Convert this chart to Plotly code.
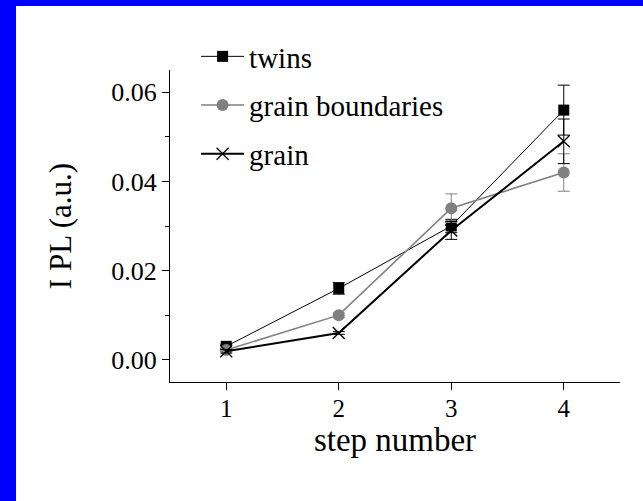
import plotly.graph_objects as go

# Measured PL intensity per processing step
steps = [1, 2, 3, 4]

twins = [0.003, 0.016, 0.030, 0.056]
twins_err = [0.0005, 0.0013, 0.0015, 0.0056]

grain_boundaries = [0.0022, 0.010, 0.034, 0.042]
grain_boundaries_err = [0.0004, 0.0005, 0.0032, 0.0042]

grain = [0.0019, 0.006, 0.029, 0.049]
grain_err = [0.0004, 0.0003, 0.0020, 0.0050]

x_ticks = [1, 2, 3, 4]
y_ticks = [0.00, 0.02, 0.04, 0.06]
y_tick_text = ["0.00", "0.02", "0.04", "0.06"]

FONT = "Liberation Serif"
GRAY = "#808080"

W, H = 643, 501
ML, MR, MT, MB = 170, 23, 70, 119

fig = go.Figure()

fig.add_trace(go.Scatter(
    x=steps, y=twins, name="twins", legendgroup="a",
    mode="lines+markers",
    line=dict(color="black", width=1),
    marker=dict(symbol="square", size=11, color="black"),
    error_y=dict(type="data", array=twins_err, color="black", thickness=1, width=6),
))
fig.add_trace(go.Scatter(
    x=steps, y=grain_boundaries, name="grain boundaries", legendgroup="b",
    mode="lines+markers",
    line=dict(color=GRAY, width=1.6),
    marker=dict(symbol="circle", size=12, color=GRAY),
    error_y=dict(type="data", array=grain_boundaries_err, color=GRAY, thickness=1, width=6),
))
fig.add_trace(go.Scatter(
    x=steps, y=grain, name="grain", legendgroup="c",
    mode="lines+markers",
    line=dict(color="black", width=2),
    marker=dict(symbol="x-thin-open", size=12, color="black",
                line=dict(color="black", width=1.3)),
    error_y=dict(type="data", array=grain_err, color="black", thickness=1, width=6),
))

# blue frame strips along the left and top edges of the page
pw = W - ML - MR
ph = H - MT - MB
def px_x(p):
    return (p - ML) / pw
def px_y(p):
    return (H - MB - p) / ph

fig.add_shape(type="rect", xref="paper", yref="paper",
              x0=px_x(0), x1=px_x(16), y0=px_y(H), y1=px_y(0),
              fillcolor="#0000ff", line=dict(width=0), layer="below")
fig.add_shape(type="rect", xref="paper", yref="paper",
              x0=px_x(0), x1=px_x(W), y0=px_y(6), y1=px_y(0),
              fillcolor="#0000ff", line=dict(width=0), layer="below")

fig.update_layout(
    width=W, height=H,
    margin=dict(l=ML, r=MR, t=MT, b=MB, pad=0),
    paper_bgcolor="white", plot_bgcolor="white",
    font=dict(family=FONT, color="black", size=26),
    showlegend=True,
    legend=dict(
        x=0.058, y=1.125, xanchor="left", yanchor="top",
        bgcolor="rgba(0,0,0,0)", borderwidth=0,
        font=dict(family=FONT, size=29, color="black"),
        tracegroupgap=8, itemwidth=43,
    ),
    xaxis=dict(
        range=[0.5, 4.5], tickvals=x_ticks, ticktext=[str(v) for v in x_ticks],
        showgrid=False, zeroline=False,
        showline=True, linecolor="black", linewidth=1.3,
        ticks="outside", ticklen=7, tickwidth=1.3, tickcolor="black",
        ticklabelstandoff=-3,
        tickfont=dict(family=FONT, size=25),
        title=dict(text="step number", font=dict(family=FONT, size=33), standoff=5),
    ),
    yaxis=dict(
        range=[-0.005, 0.065], tickvals=y_ticks, ticktext=y_tick_text,
        showgrid=False, zeroline=False,
        showline=True, linecolor="black", linewidth=1.3,
        ticks="outside", ticklen=7, tickwidth=1.3, tickcolor="black",
        tickfont=dict(family=FONT, size=26),
        minor=dict(tickvals=[0.01, 0.03, 0.05], ticks="outside", ticklen=4,
                   tickwidth=1.3, tickcolor="black"),
        title=dict(text="I PL (a.u.)", font=dict(family=FONT, size=31), standoff=30),
    ),
)

fig.write_html("out.html")
